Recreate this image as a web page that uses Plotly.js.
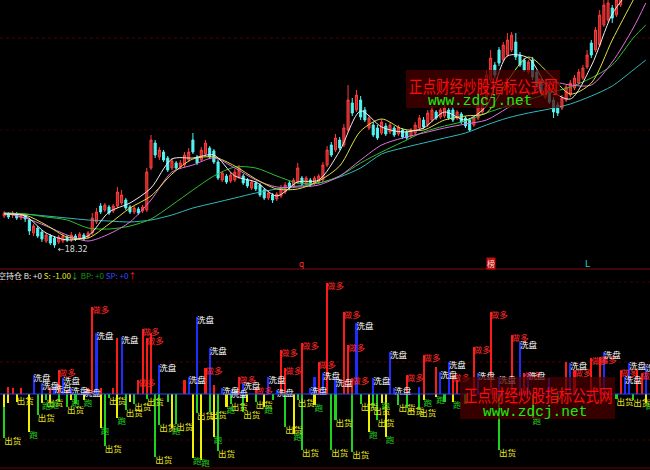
<!DOCTYPE html>
<html>
<head>
<meta charset="utf-8">
<script src="https://cdn.plot.ly/plotly-3.0.1.min.js"></script>
<style>
  html, body { margin: 0; padding: 0; background: #000; }
  #chart { width: 650px; height: 470px; }
</style>
</head>
<body>
<div id="chart"></div>
<script>
// ---- daily K-line data (price) ----
const opens = [
  21.50,21.70,21.60,21.70,21.30,21.50,21.10,19.80,20.30,19.90,
  19.00,19.50,19.30,18.90,19.00,19.40,19.10,19.50,19.30,19.60,
  19.40,19.80,20.90,22.50,22.10,22.40,22.00,22.50,22.80,23.10,
  22.40,21.90,22.20,22.00,22.10,26.30,28.80,27.40,27.90,27.30,
  26.30,26.80,26.40,26.60,27.10,29.10,27.40,27.10,27.70,28.30,
  28.00,26.90,25.10,25.50,25.00,25.10,25.40,25.50,25.10,24.30,
  24.80,24.60,24.10,23.30,23.60,23.20,23.50,23.90,24.80,24.50,
  24.90,25.30,24.70,25.10,24.80,24.90,25.10,26.60,28.60,28.10,
  29.10,28.60,30.10,32.80,32.10,33.10,32.10,30.30,30.60,30.30,
  29.80,30.50,29.90,30.30,29.70,30.10,29.90,29.50,29.80,30.30,
  31.10,30.60,31.10,31.90,31.40,31.50,32.10,32.10,31.30,31.70,
  31.30,31.10,30.60,31.30,31.90,33.10,35.10,36.60,38.10,37.10,
  37.60,38.10,38.90,37.60,37.10,35.90,37.10,35.90,34.90,33.40,
  33.90,33.10,32.60,32.30,33.10,33.60,34.30,34.80,35.30,36.40,
  38.80,38.10,38.60,40.60,41.10,42.30,41.60,42.60,43.40,44.10,
  46.10,45.60,46.60,47.60
];
const highs = [
  22.00,21.90,22.00,21.90,21.80,21.70,21.30,20.70,20.50,20.10,
  19.80,19.70,19.50,19.60,19.80,19.60,19.90,19.70,19.90,19.80,
  20.00,21.80,22.30,22.80,22.80,22.60,22.70,24.40,24.10,23.30,
  22.60,22.50,22.40,22.60,26.30,29.60,29.10,28.40,28.10,27.50,
  27.30,27.00,27.10,27.90,28.30,29.80,27.60,28.40,29.10,28.50,
  28.20,27.10,26.00,25.70,25.90,26.20,26.60,25.70,25.30,25.10,
  25.00,24.80,24.30,24.00,23.80,23.90,24.60,24.90,25.00,25.30,
  26.80,25.50,25.50,25.30,25.50,25.70,26.90,28.50,28.90,29.70,
  29.40,30.70,34.60,33.30,34.10,33.50,32.40,31.60,30.90,30.60,
  31.20,30.80,30.90,30.50,30.60,30.30,30.10,30.30,30.90,31.60,
  31.40,32.10,32.50,32.10,32.30,32.60,32.30,32.40,32.10,31.90,
  31.50,31.30,31.50,33.00,33.50,36.10,38.10,36.90,38.40,38.90,
  39.80,39.90,39.80,37.90,37.30,37.10,37.40,36.10,35.10,34.50,
  34.10,33.40,32.90,33.60,34.70,35.10,35.60,36.20,36.60,38.10,
  39.10,40.40,42.10,43.10,43.30,42.60,43.50,44.50,45.30,46.30,
  46.60,47.60,48.60,49.30
];
const lows = [
  21.30,21.20,21.30,21.10,21.10,20.90,19.60,19.50,19.30,18.90,
  18.80,18.60,18.32,18.70,18.80,18.90,18.90,19.00,19.10,19.00,
  19.20,19.60,20.70,21.70,21.90,21.60,21.80,22.30,22.60,22.10,
  21.70,21.70,21.60,21.80,21.90,26.10,27.30,27.10,26.90,25.90,
  26.10,26.10,26.20,26.40,26.90,27.70,26.60,26.90,27.50,27.20,
  26.70,25.10,24.90,24.70,24.80,24.90,25.20,24.60,24.30,24.10,
  24.00,23.40,23.10,23.10,22.80,23.00,23.30,23.70,24.10,24.30,
  24.70,24.50,24.50,24.40,24.60,24.70,24.90,26.40,27.40,27.90,
  28.10,28.40,29.90,31.50,31.90,31.10,30.90,30.10,29.40,29.10,
  29.60,29.50,29.70,29.40,29.50,29.20,29.10,29.30,29.60,30.10,
  30.20,30.40,30.90,31.10,31.20,31.30,31.10,30.90,31.10,30.70,
  30.30,29.90,30.40,31.10,31.70,32.90,34.90,35.30,36.50,36.90,
  37.40,37.90,37.10,36.40,35.90,35.70,35.10,34.30,33.70,33.20,
  32.70,31.30,31.50,32.10,32.90,33.40,34.10,34.60,35.10,36.20,
  37.30,37.90,38.40,40.40,40.90,40.80,41.40,42.40,43.10,43.90,
  44.90,45.30,46.30,47.30
];
const closes = [
  21.80,21.40,21.80,21.30,21.60,21.20,20.00,20.50,19.50,19.20,
  19.60,18.80,18.60,19.40,19.50,19.10,19.60,19.20,19.70,19.20,
  19.80,21.30,21.90,21.90,22.60,21.80,22.50,23.90,23.60,22.30,
  21.90,22.30,21.80,22.40,25.90,29.10,27.60,28.10,27.10,26.10,
  27.00,26.30,26.80,27.60,27.90,27.90,26.80,28.10,28.80,27.40,
  26.90,25.30,25.80,24.90,25.60,25.90,26.30,24.80,24.50,24.90,
  24.20,23.60,23.30,23.80,23.10,23.70,24.30,24.60,24.30,25.10,
  26.30,24.70,25.30,24.60,25.30,25.50,26.60,28.10,27.60,29.30,
  28.30,30.30,33.10,31.80,33.60,31.40,31.10,31.30,29.60,29.30,
  30.90,29.70,30.60,29.60,30.40,29.40,29.30,30.10,30.60,31.30,
  30.40,31.80,32.10,31.30,32.10,32.30,31.30,31.10,31.90,30.90,
  30.50,30.10,31.30,32.60,33.10,35.60,37.30,35.60,36.80,38.60,
  39.10,39.60,37.40,36.60,36.10,36.90,35.40,34.60,33.90,34.30,
  32.90,31.90,31.80,33.30,34.40,34.80,35.30,35.90,36.30,37.60,
  37.60,40.10,41.60,42.60,42.80,41.30,43.10,44.10,44.90,45.90,
  45.10,47.10,48.10,48.90
];

// ---- moving-average lines, sampled every 5 sessions ----
const maIdx  = [0,5,10,15,20,25,30,35,40,45,50,55,60,65,70,75,80,85,90,95,100,105,110,115,120,125,130,135,140,145,150,153];
const maWhite = [21.70,21.50,19.80,19.10,19.50,21.90,22.80,24.30,27.20,27.30,27.60,25.50,24.90,23.50,24.90,25.10,28.00,32.00,30.40,29.90,30.30,31.90,31.10,32.50,37.50,37.30,34.20,33.20,36.50,41.70,44.60,47.00];
const maYellow = [21.70,21.60,20.60,19.40,19.30,20.70,22.30,23.50,25.70,27.20,27.40,26.50,25.20,24.20,24.20,25.00,26.50,30.00,31.20,30.20,30.10,31.10,31.50,31.80,35.00,37.40,35.70,33.70,34.80,39.10,43.10,45.50];
const maMagenta = [21.80,21.30,20.50,19.60,19.00,19.70,20.90,23.10,25.90,26.60,27.30,26.30,25.10,24.40,24.40,24.60,25.50,27.10,28.60,29.30,29.80,30.30,30.70,31.10,32.30,33.60,34.90,34.60,34.60,36.90,40.30,42.80];
const maGreen = [21.80,21.70,21.40,21.10,20.30,20.20,20.50,21.20,22.60,24.10,25.50,26.40,26.30,25.50,24.80,24.80,25.50,26.80,27.90,28.90,29.90,30.50,31.00,31.80,32.50,33.10,33.80,34.40,35.30,36.60,39.30,40.60];
const maCyan = [21.80,21.70,21.50,21.30,21.10,21.00,20.90,21.10,21.60,22.30,22.80,23.30,23.80,24.20,24.50,24.80,25.40,26.30,27.70,28.30,28.80,29.30,29.80,30.60,31.30,31.80,32.20,32.70,33.50,34.50,36.10,37.10];

// ---- position indicator: signal columns (tag = 1 -> column carries its word) ----
const redIdx = [1,2,4,11,13,15,20,21,23,26,27,32,33,34,35,43,48,50,56,60,66,67,71,75,77,81,82,83,96,100,103,107,108,112,116,121,124,134,136,140,142,147,151,152];
const redVal = [7,6,6,7,24,4,6,87,6,6,56,14,65,56,61,14,26,9,17,6,44,26,51,32,111,82,49,16,19,39,27,19,14,47,82,59,21,32,24,36,37,24,24,21];
const redTag = [0,0,0,0,1,0,0,1,0,0,0,1,1,1,0,0,1,0,1,1,1,1,1,1,1,1,1,1,1,1,0,1,0,1,1,1,1,0,1,1,1,1,0,1];

const blueIdx = [7,9,12,14,16,19,22,28,37,44,46,49,52,54,57,63,65,73,74,76,79,84,88,92,93,99,104,106,113,118,123,125,130,135,143,148,149,153];
const blueVal = [19,11,8,16,6,4,61,57,29,17,77,46,6,3,11,17,4,6,17,21,14,71,16,42,6,7,22,32,21,17,52,21,16,31,42,17,31,29];
const blueTag = [1,1,1,1,1,1,1,1,1,1,1,1,1,1,1,1,1,1,0,1,1,1,1,1,1,0,1,1,1,1,1,1,0,1,1,1,1,1];

const yellowIdx = [0,1,3,6,9,11,16,19,23,27,30,40,45,47,50,53,58,62,69,74,87,90,91,100,103,107,126,153];
const yellowVal = [-13,-9,-8,-38,-9,-8,-6,-6,-34,-24,-8,-34,-64,-66,-43,-13,-8,-13,-40,-11,-38,-9,-43,-6,-3,-8,-24,-9];
const yellowTag = [0,0,0,1,1,1,1,1,1,1,0,1,1,1,1,1,0,1,1,1,1,1,1,1,1,1,1,1];

const greenIdx = [0,3,8,10,13,15,17,24,25,29,31,34,36,37,39,41,46,49,51,54,57,60,64,67,70,71,78,79,83,85,88,89,94,96,99,105,110,118,132,146,150];
const greenVal = [-44,-4,-21,-6,-8,-13,-10,-52,-4,-16,-10,-5,-63,-31,-8,-30,-19,-18,-57,-10,-18,-8,-6,-33,-6,-56,-56,-26,-58,-10,-14,-26,-11,-14,-16,-8,-10,-56,-8,-5,-6];
const greenTag = [1,1,1,1,0,1,0,1,1,1,1,1,1,1,0,1,1,1,1,1,1,1,0,1,1,1,1,1,1,1,1,1,1,1,1,0,0,1,0,1,1];

const wordRed = '做多', wordBlue = '洗盘', wordYellow = '跑', wordGreen = '出货';

// ---- signal markers on the bottom edge of the price pane ----
const markIdx = [71, 116, 139];
const markText = ['q', '榜', 'L'];

// -------------------------------------------------------------
const days = closes.map((_, i) => i);
const CJK = '"Noto Sans CJK SC", "Noto Sans", sans-serif';
const px = y => 1 - y / 470;          // pixel row -> paper fraction
const pxX = x => x / 650;

// lowest low and its session
let lowI = 0;
lows.forEach((v, i) => { if (v < lows[lowI]) lowI = i; });

function tagged(idx, val, tag) {
  const x = [], y = [];
  idx.forEach((d, k) => { if (tag[k]) { x.push(d); y.push(val[k]); } });
  return { x, y };
}

const traces = [];

traces.push({
  type: 'candlestick', x: days, open: opens, high: highs, low: lows, close: closes,
  xaxis: 'x', yaxis: 'y', whiskerwidth: 0,
  increasing: { line: { color: '#ff3c3c', width: 1 }, fillcolor: '#b82424' },
  decreasing: { line: { color: '#54f4f4', width: 1 }, fillcolor: '#54f4f4' },
  hoverinfo: 'skip'
});

[[maCyan, '#33b9b9'], [maGreen, '#2fbf2f'], [maMagenta, '#e070e0'],
 [maYellow, '#dede48'], [maWhite, '#eeeeee']].forEach(([v, c]) => {
  traces.push({
    type: 'scatter', mode: 'lines', x: maIdx, y: v, xaxis: 'x', yaxis: 'y',
    line: { color: c, width: 1, shape: 'spline', smoothing: 0.8 }, hoverinfo: 'skip'
  });
});

[[redIdx, redVal, '#ff1a1a'], [blueIdx, blueVal, '#1f2bff'],
 [greenIdx, greenVal, '#1fd21f'], [yellowIdx, yellowVal, '#f0f000']].forEach(([x, y, c]) => {
  traces.push({
    type: 'bar', x: x, y: y, xaxis: 'x', yaxis: 'y2', width: 0.5,
    marker: { color: c, line: { width: 0 } }, hoverinfo: 'skip'
  });
});

[[redIdx, redVal, redTag, wordRed, '#ff2a2a'],
 [blueIdx, blueVal, blueTag, wordBlue, '#ffffff'],
 [greenIdx, greenVal, greenTag, wordGreen, '#e6e620'],
 [yellowIdx, yellowVal, yellowTag, wordYellow, '#22d022']].forEach(([x, y, t, w, c]) => {
  const p = tagged(x, y, t);
  traces.push({
    type: 'scatter', mode: 'text', x: p.x, y: p.y, xaxis: 'x', yaxis: 'y2',
    text: p.x.map(() => w), textposition: 'bottom right', cliponaxis: false,
    textfont: { family: CJK, size: 8.5, color: c }, hoverinfo: 'skip'
  });
});

const shapes = [
  // dotted guides in the price pane
  { type: 'line', xref: 'paper', yref: 'paper', x0: 0, x1: 1, y0: px(38), y1: px(38), line: { color: '#4a0000', width: 1, dash: 'dot' }, layer: 'below' },
  { type: 'line', xref: 'paper', yref: 'paper', x0: 0, x1: 1, y0: px(130), y1: px(130), line: { color: '#2e0000', width: 1, dash: 'dot' }, layer: 'below' },
  // pane separator
  { type: 'line', xref: 'paper', yref: 'paper', x0: 0, x1: 1, y0: px(269), y1: px(269), line: { color: '#8a0a0a', width: 1 } },
  // indicator pane guides
  { type: 'line', xref: 'paper', yref: 'paper', x0: 0, x1: 1, y0: px(282), y1: px(282), line: { color: '#3a0000', width: 1, dash: 'dot' }, layer: 'below' },
  { type: 'line', xref: 'paper', yref: 'paper', x0: 0, x1: 1, y0: px(362), y1: px(362), line: { color: '#480000', width: 1, dash: 'dot' }, layer: 'below' },
  { type: 'line', xref: 'paper', yref: 'paper', x0: 0, x1: 1, y0: px(440), y1: px(440), line: { color: '#3a0000', width: 1, dash: 'dot' }, layer: 'below' },
  { type: 'line', xref: 'paper', yref: 'paper', x0: 0, x1: 1, y0: px(468), y1: px(468), line: { color: '#6a0000', width: 1 } },
  // zero line of the indicator
  { type: 'line', xref: 'paper', yref: 'y2', x0: 0, x1: 1, y0: 0, y1: 0, line: { color: '#2a44ff', width: 1 }, layer: 'above' },
  // site stamps
  { type: 'rect', xref: 'paper', yref: 'paper', x0: pxX(406), x1: pxX(560), y0: px(108), y1: px(70), fillcolor: 'rgba(75,0,0,0.72)', line: { width: 0 }, layer: 'above' },
  { type: 'rect', xref: 'paper', yref: 'paper', x0: pxX(460), x1: pxX(615), y0: px(419), y1: px(377), fillcolor: 'rgba(75,0,0,0.72)', line: { width: 0 }, layer: 'above' }
];

const stamp = (x, y, text, font) => ({
  xref: 'paper', yref: 'paper', x: pxX(x), y: px(y), xanchor: 'center', yanchor: 'middle',
  showarrow: false, text: text, font: font
});
const stampRed = { family: CJK, size: 13.5, color: '#ff0a0a' };
const stampGreen = { family: 'Liberation Mono', size: 14.5, color: '#12f012' };

const annotations = [
  {
    xref: 'x', yref: 'y', x: lowI, y: lows[lowI], xanchor: 'left', yanchor: 'middle',
    xshift: 1, yshift: -2, showarrow: false,
    text: '←' + lows[lowI].toFixed(2), font: { family: 'DejaVu Sans', size: 8, color: '#d8d8d8' }
  },
  {
    xref: 'paper', yref: 'paper', x: 0, y: px(275), xanchor: 'left', yanchor: 'middle',
    xshift: -4, showarrow: false,
    font: { family: CJK, size: 8, color: '#e8e8e8' },
    text: '空持仓 B: +0 <span style="color:#e8e820">S: -1.00</span><span style="color:#20c020">↓</span> ' +
          '<span style="color:#139a13">BP: +0</span> <span style="color:#3a48ff">SP: +0</span>' +
          '<span style="color:#ff2020">↑</span>'
  },
  { xref: 'x', yref: 'paper', x: markIdx[0], y: px(264), xanchor: 'center', yanchor: 'middle', showarrow: false, text: markText[0],
    font: { family: 'DejaVu Sans', size: 8, color: '#ff3030' } },
  { xref: 'x', yref: 'paper', x: markIdx[1], y: px(263), xanchor: 'center', yanchor: 'middle', showarrow: false, text: markText[1],
    bgcolor: '#c01010', borderpad: 0, font: { family: CJK, size: 8, color: '#ffd8d8' } },
  { xref: 'x', yref: 'paper', x: markIdx[2], y: px(264), xanchor: 'center', yanchor: 'middle', showarrow: false, text: markText[2],
    font: { family: 'DejaVu Sans', size: 9, color: '#20d0d0' } },
  // site stamps
  stamp(484, 85, '正点财经炒股指标公式网', stampRed),
  stamp(480, 101, 'www.zdcj.net', stampGreen),
  stamp(538, 394, '正点财经炒股指标公式网', stampRed),
  stamp(535, 412, 'www.zdcj.net', stampGreen)
];

const layout = {
  width: 650, height: 470,
  margin: { l: 0, r: 0, t: 0, b: 0 },
  paper_bgcolor: '#000', plot_bgcolor: '#000',
  showlegend: false, barmode: 'overlay', bargap: 0,
  xaxis: { range: [-1, 154], visible: false, fixedrange: true, rangeslider: { visible: false } },
  yaxis: { domain: [px(268), 1], range: [16.30, 43.10], visible: false, fixedrange: true },
  yaxis2: { domain: [0, px(280)], range: [-76, 114], visible: false, fixedrange: true },
  shapes: shapes,
  annotations: annotations,
  hovermode: false
};

Plotly.newPlot('chart', traces, layout, { staticPlot: true, displayModeBar: false }).then(gd => {
  // the site stamp lettering is drawn tall and narrow
  gd.querySelectorAll('.annotation-text').forEach(t => {
    if (t.textContent === '正点财经炒股指标公式网') {
      const b = t.getBBox();
      const cy = b.y + b.height / 2;
      t.setAttribute('transform', `translate(0 ${cy}) scale(1 1.3) translate(0 ${-cy})`);
    }
  });
});
</script>
</body>
</html>
